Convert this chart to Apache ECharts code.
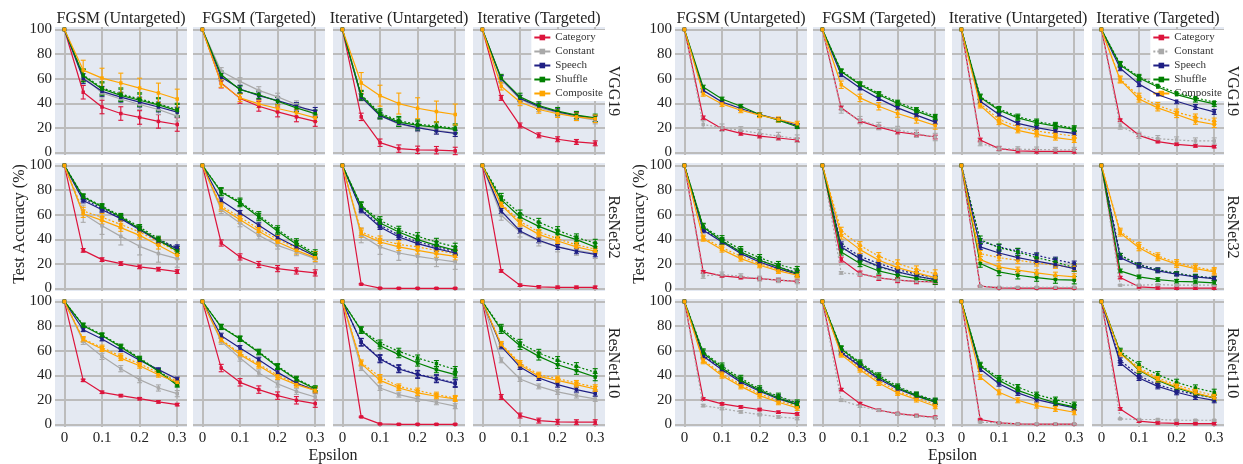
<!DOCTYPE html>
<html>
<head>
<meta charset="utf-8">
<script src="https://cdn.jsdelivr.net/npm/echarts@6/dist/echarts.min.js"></script>
<style>
  html, body { margin: 0; padding: 0; background: #fff; }
  #chart { width: 1243px; height: 464px; }
</style>
</head>
<body>
<div id="chart"></div>
<script>
// ---- axes / labels ----
const epsilon = [0, 0.05, 0.1, 0.15, 0.2, 0.25, 0.3];
const attacks = ['FGSM (Untargeted)', 'FGSM (Targeted)', 'Iterative (Untargeted)', 'Iterative (Targeted)'];
const models = ['VGG19', 'ResNet32', 'ResNet110'];
const methods = ['Category', 'Constant', 'Speech', 'Shuffle', 'Composite'];

// ---- left panel: test accuracy (%), rows = VGG19 x4 attacks, ResNet32 x4, ResNet110 x4 ----
const leftCategory = [
  [100,49,37,31.7,28.5,25.3,22.8], [100,56.5,44,37.6,33,29,25.3], [100,29,8,3.2,2.2,1.9,1.3], [100,44.4,22,14,10.8,8.6,7.5],
  [100,31,23.5,20.3,17.6,15.7,13.8], [100,37,25.7,19.5,16.2,14.3,12.7], [100,3.5,0.3,0.2,0.2,0.2,0.2], [100,14.3,2.7,1.4,1,1,1],
  [100,35.9,26.2,23.5,21,18.4,16.2], [100,45.9,34.3,28.4,23.5,19.7,17], [100,6.2,0.5,0.2,0.2,0.2,0.2], [100,22.4,7.3,3.2,2.2,1.9,1.9]
];
const leftConstant = [
  [100,62,48.4,43.5,39,35,29.6], [100,66,57.8,50.5,45.2,39,31], [100,45,30,23,20,18,16], [100,59,43.5,36.3,32.3,29,26.3],
  [100,60.8,51,42.4,34.3,28.4,24.3], [100,64,53.2,43.2,35.1,29.7,24.3], [100,43.2,33.8,28.9,26.2,23.8,21.6], [100,59.5,45.9,38.6,33.8,31,28.4],
  [100,67.6,55.4,45.4,36.5,29.7,25.1], [100,67.6,54,41.9,33,27,22.4], [100,45.9,29.7,24.3,20.8,18.1,14.9], [100,52.2,37,31,26.5,23.5,20.8]
];
const leftSpeech = [
  [100,60,49.7,45,41,37,32.8], [100,61.3,51.6,46.2,42.2,37.6,33.6], [100,45,30,23.7,20.2,17.5,15.6], [100,60,44,37.5,33,30,27.5],
  [100,71.6,64,56.8,47.8,38.6,32.4], [100,71.6,61.4,51.4,41.4,33.8,26.2], [100,63.5,50,41.9,36.5,32.4,28.9], [100,63,46.8,39.2,33.8,30.3,27.8],
  [100,77,69.5,60.8,52.2,44.6,37], [100,72.2,62.2,52.7,42.4,33.8,27.8], [100,66.8,53.2,45.1,40.5,37,33.2], [100,63.5,46.8,37.8,32.4,28.4,25.1]
];
const leftShuffle = [
  [100,62.4,51.6,46.5,42.5,38.7,34.1], [100,63.2,51,47,41.7,36.3,31.5], [100,46.2,30.9,24.7,22,20.7,18.8], [100,60.5,45.2,38.2,33.6,30.4,28.2],
  [100,74.3,66.2,58.1,48.6,39.2,30.5], [100,78.4,69.5,58.1,46.5,35.9,27], [100,66.8,53.2,45.9,39.7,35.1,31], [100,72.2,58.1,50.5,44.6,39.7,33.8],
  [100,80.3,72.4,63,53.2,43.2,31.9], [100,79.2,69.5,58.6,46.8,36.5,28.9], [100,76.5,64,56.8,50,44.6,40.5], [100,77,64,55.4,48.6,43.8,38.6]
];
const leftComposite = [
  [100,67,60.5,56.5,52.4,48.4,43.5], [100,56,44.4,39.5,35.8,32.3,28.2], [100,56.5,46.2,39.8,36,33.3,30.9], [100,53.8,41.1,35,31.5,29,27.4],
  [100,60.8,55.4,49.5,43.2,35.1,27], [100,65.7,55.9,46.5,37.8,31,25.1], [100,44.6,37.8,33.8,31,28.4,26.2], [100,68.1,52.7,44,38.6,33.8,30.3],
  [100,68.9,61.4,54,47.8,40.5,34.3], [100,68.4,56.8,47.8,38.6,32.4,27.8], [100,49.5,35.9,29.7,25.7,23,20.8], [100,64.9,48.6,39.2,35.9,32.4,28.9]
];
// dotted companion runs (null = not drawn)
const leftSpeechDotted = [
  null, null, null, null,
  [100,73,65,57.5,48.5,39.5,33.5], null, [100,64.5,51.5,43.5,38,33.8,30], null,
  null, null, [100,67,53.8,45.6,41,37.5,33.8], null
];
const leftShuffleDotted = [
  [100,63,52.5,47.5,43.5,39.5,35], null, [100,47,32,25.8,23,21.6,19.8], null,
  [100,75,67,59,50,40.5,32], [100,79,70.5,59.5,48,37.5,28.5], [100,67.5,55.4,47.6,42.4,37.8,33.8], [100,74.3,60.8,54,47.3,41.4,37],
  [100,81,73,63.8,54,44,32.8], [100,79.5,70,59.2,47.5,37.2,29.5], [100,77,66.2,59.5,54,49.5,44.6], [100,78.4,66.2,58.1,52.2,47.3,42.4]
];
const leftCompositeDotted = [
  null, null, null, null,
  [100,63,58,52,46,38,30], [100,67,58,48.5,40,33,27], [100,46,39.7,35.9,33.8,31,28.4], [100,69,54.5,46,40.5,35.5,32],
  [100,69.5,62.5,55.5,49.5,42,35.5], [100,69,58,49,40,33.5,28.5], [100,50.5,38.6,31,27.6,24.3,21.6], [100,65.5,50,40.5,37.3,33.8,30.3]
];
// error-bar half widths, one per plot
const leftCategoryErr  = [5.5,4,3,2, 1.5,2.5,0.5,1, 1,3,0.5,2];
const leftConstantErr  = [4,3,3,3, 7,3,6,4, 2.5,2.5,2,2];
const leftSpeechErr    = [4,3,2.5,2.5, 2,2,2,2, 1.5,2,3,2];
const leftShuffleErr   = [5,3,3.5,3, 2,3,3,3, 1.5,2,2.5,3];
const leftCompositeErr = [8,3,8.5,3, 3,3,3,2, 2,2,2,2];

// ---- right panel ----
const rightCategory = [
  [100,28.2,19.4,15.6,13.4,11.8,10.2], [100,36.3,25.5,20.7,16.7,14.8,12.6], [100,10.2,3.2,1.3,1,1,1], [100,26.3,14,8.9,6.7,5.4,4.8],
  [100,13.5,10.3,8.9,8.1,6.8,5.9], [100,23.5,12.2,8.6,6.8,5.9,5.4], [100,1.9,0.5,0.3,0.3,0.3,0.3], [100,8.9,1.4,0.5,0.3,0.3,0.3],
  [100,20.8,16.8,14.3,12.2,10,8.6], [100,28.4,17,11.6,8.9,7.3,5.9], [100,4.1,1.4,0.5,0.3,0.3,0.3], [100,12.7,2.7,1.4,1,0.8,0.8]
];
const rightConstant = [
  [100,22.8,20.2,18,15.6,13.4,11.3], [100,35,26.3,21.5,18.3,15.3,12.6], [100,7.5,3.2,2.7,2.5,2.2,2.2], [100,21.5,14,11.3,10.2,9.4,9.4],
  [100,10.3,11.4,10,8.1,6.8,5.9], [100,12.7,11.6,8.6,6.8,5.9,5.4], [100,1.9,1,1,1,1,1], [100,2.7,2.7,3.2,2.7,2.7,2.7],
  [100,15.4,13,10.3,8.1,6.2,4.9], [100,19.7,14.9,11.6,8.6,6.8,5.4], [100,1.9,1.4,0.5,0.5,0.5,0.5], [100,4.6,4.1,4.1,3.5,3.5,3.5]
];
const rightSpeech = [
  [100,50.5,41.1,35.8,30.9,26.9,22], [100,63.2,52.4,43.8,36.3,30.4,24.7], [100,41.7,30.9,23.7,20.2,17.5,15.6], [100,68.5,55.6,47,41.7,37,33],
  [100,47.3,37.8,28.4,21.6,16.2,11.6], [100,33.8,24.3,18.1,13.5,10,7.3], [100,33.8,28.9,25.1,22.2,19.5,16.2], [100,25.1,18.1,14.3,11.6,9.5,8.1],
  [100,55.4,44.6,34.3,27,20.8,16.2], [100,58.6,47.3,37,28.9,23,18.1], [100,45.1,33.2,25.7,20.3,16.8,13.5], [100,50,37.8,31,26.2,22.4,19.7]
];
const rightShuffle = [
  [100,53.2,43.5,37.6,30.9,26.3,21], [100,65.9,55.1,47,39.8,33.6,28.2], [100,44.9,34.4,28.2,24.2,21.5,18.8], [100,71.2,60.5,53.2,47,43,39.5],
  [100,50,38.6,29.7,23,17.6,12.2], [100,29.7,20.3,14.3,10.8,8.1,5.9], [100,20.3,13.5,10.8,8.9,7.3,6.8], [100,14.3,9.5,7.3,5.9,5.4,4.6],
  [100,58.1,45.9,35.9,27.8,21.6,16.2], [100,61.4,49.5,38.6,29.7,23.5,18.4], [100,47.8,35.9,27.8,22.4,17.6,14.3], [100,58.6,44.1,35.9,29.7,25.1,21.6]
];
const rightComposite = [
  [100,47.8,39.5,34.4,30.4,26.9,23.4], [100,55.1,44.4,37.6,31.7,26.9,22], [100,38.2,24.7,18,14.8,12.1,10.2], [100,59,43.5,36.3,30.9,25.5,22.8],
  [100,40.5,31.6,24.3,18.9,14.3,10.8], [100,43.2,31.6,23,17,12.7,8.9], [100,23.5,17.6,14.9,12.7,10.8,9.5], [100,45.1,33.2,25.1,19.7,16.2,13.5],
  [100,51.4,39.7,31,23.5,18.1,13.5], [100,56.8,44.6,33.8,25.7,20.3,14.9], [100,38.6,26.2,19.7,15.4,12.7,10], [100,57.6,44.6,36.5,30.5,25.7,21.6]
];
const rightSpeechDotted = [
  null, null, null, null,
  [100,48,39,29.5,23,17.5,13], [100,35.9,26.2,20.3,15.4,11.6,8.9], [100,38.6,33.8,30.5,27,23.5,20.3], [100,27,19.5,15.4,12.2,10,8.6],
  [100,56.5,45.5,35.5,28,22,17], [100,59.5,48.5,38,30,24,19], null, [100,52.2,39.7,32.4,27.8,24.3,21.6]
];
const rightShuffleDotted = [
  null, [100,66.5,56,48,41,35,29.5], [100,45.5,35.4,29.2,25.2,22.5,19.8], [100,72,61.5,54.5,48.5,44.5,41],
  [100,50.5,40.5,31.6,25.1,19.5,15.4], [100,33.8,24.3,17.6,13.5,10,7.3], [100,39.7,33.2,29.7,25.1,21.6,17], [100,27,18.9,14.9,12.2,10,8.1],
  [100,59,47.5,37.5,29,23,17.5], [100,62,50.5,40,31,24.5,19.5], [100,48.6,37.8,30.5,24.3,20.3,16.2], [100,59.5,48.6,40.5,34.3,29.7,26.2]
];
const rightCompositeDotted = [
  null, null, [100,39.8,26.9,20.7,17.5,15.3,13.4], [100,59.7,45.7,38.2,32.8,28.8,25.5],
  [100,41.4,33.2,26.2,20.3,15.4,11.6], [100,46.8,35.1,26.2,20.3,15.4,12.2], [100,28.4,25.1,23,20.8,18.9,17], [100,46.5,35,26.5,21,17.5,14.5],
  [100,52.5,41,32.5,25,19.5,15], [100,57.8,46,35.5,27,21.5,16.5], null, [100,58.5,46,38,32,27.5,23.5]
];
const rightCategoryErr  = [1.5,1.5,1.5,1, 1,2,0.5,1, 1,1,0.5,1];
const rightConstantErr  = [3,3,2,2.5, 2,1,0.5,0.5, 1,1,0.5,0.5];
const rightSpeechErr    = [1.5,1.5,1.5,2, 2,2,2,1.5, 2,2,2,2];
const rightShuffleErr   = [1.5,1.5,2,2, 2.5,2.5,3,1.5, 2.5,2,2,2.5];
const rightCompositeErr = [2,3,2,2.5, 2,3,2.5,2.5, 2,2,2,2];

// ---- styling ----
const colors = { Category: '#DC143C', Constant: '#A9A9A9', Speech: '#1f1f84', Shuffle: '#008000', Composite: '#FFA500' };
const SERIF = "'Liberation Serif', 'DejaVu Serif', serif";
const TEXT = '#222';
const panelColLefts = [[55, 193, 333, 473], [675, 813, 952, 1092]];
const colWidth = 132;
const rowTops = [27, 163, 299];
const rowHeight = 128;

const panels = [
  {
    solid: { Category: leftCategory, Constant: leftConstant, Speech: leftSpeech, Shuffle: leftShuffle, Composite: leftComposite },
    dotted: { Speech: leftSpeechDotted, Shuffle: leftShuffleDotted, Composite: leftCompositeDotted },
    err: { Category: leftCategoryErr, Constant: leftConstantErr, Speech: leftSpeechErr, Shuffle: leftShuffleErr, Composite: leftCompositeErr },
    dottedMethods: []
  },
  {
    solid: { Category: rightCategory, Constant: rightConstant, Speech: rightSpeech, Shuffle: rightShuffle, Composite: rightComposite },
    dotted: { Speech: rightSpeechDotted, Shuffle: rightShuffleDotted, Composite: rightCompositeDotted },
    err: { Category: rightCategoryErr, Constant: rightConstantErr, Speech: rightSpeechErr, Shuffle: rightShuffleErr, Composite: rightCompositeErr },
    dottedMethods: ['Constant']
  }
];

const grids = [], xAxes = [], yAxes = [], lineSeries = [], dottedSeries = [], errSeries = [], graphics = [];
const gridLine = { show: true, showMinLine: false, showMaxLine: false, lineStyle: { color: '#bcbcbc', width: 2 } };

function errorBars(g, points, err, color) {
  return {
    type: 'custom', xAxisIndex: g, yAxisIndex: g, silent: true, z: 3,
    data: points.slice(1).map(p => [p[0], p[1], err]),
    encode: { x: 0, y: 1 },
    renderItem: (params, api) => {
      const x = api.value(0), y = api.value(1), e = api.value(2);
      const top = api.coord([x, y + e]);
      const bot = api.coord([x, y - e]);
      const w = 2.5;
      const st = { stroke: color, lineWidth: 1.1 };
      return {
        type: 'group',
        children: [
          { type: 'line', shape: { x1: top[0], y1: top[1], x2: bot[0], y2: bot[1] }, style: st },
          { type: 'line', shape: { x1: top[0] - w, y1: top[1], x2: top[0] + w, y2: top[1] }, style: st },
          { type: 'line', shape: { x1: bot[0] - w, y1: bot[1], x2: bot[0] + w, y2: bot[1] }, style: st }
        ]
      };
    }
  };
}

panels.forEach((panel, p) => {
  models.forEach((model, r) => {
    attacks.forEach((attack, c) => {
      const g = grids.length;
      const k = r * 4 + c;
      grids.push({
        left: panelColLefts[p][c], top: rowTops[r], width: colWidth, height: rowHeight,
        show: true, backgroundColor: '#e4e9f2', borderWidth: 0, containLabel: false
      });
      xAxes.push({
        gridIndex: g, type: 'value', min: -0.025, max: 0.326, splitNumber: 4,
        axisLine: { show: false }, axisTick: { show: false },
        axisLabel: {
          show: r === 2, margin: 4, color: TEXT, fontFamily: SERIF, fontSize: 15,
          formatter: v => (Math.abs(v * 10 - Math.round(v * 10)) < 1e-6 ? String(Math.round(v * 10) / 10) : '')
        },
        splitLine: gridLine
      });
      yAxes.push({
        gridIndex: g, type: 'value', min: -2, max: 102, splitNumber: 5,
        axisLine: { show: false }, axisTick: { show: false },
        axisLabel: {
          show: c === 0, margin: 3, color: TEXT, fontFamily: SERIF, fontSize: 15,
          formatter: v => (Math.abs(v % 20) < 1e-6 ? String(v) : '')
        },
        splitLine: gridLine
      });
      methods.forEach((m, mi) => {
        const vals = panel.solid[m][k];
        const pts = epsilon.map((x, i) => [x, vals[i]]);
        const isDotted = panel.dottedMethods.includes(m);
        lineSeries.push({
          type: 'line', name: m, xAxisIndex: g, yAxisIndex: g, data: pts,
          symbol: 'rect', symbolSize: 3.5, showSymbol: true, z: 4 + mi * 0.1,
          lineStyle: { color: colors[m], width: 1.2, type: isDotted ? [2, 2] : 'solid' },
          itemStyle: { color: colors[m] }, animation: false
        });
        errSeries.push(errorBars(g, pts, panel.err[m][k], colors[m]));
        const dv = panel.dotted[m] ? panel.dotted[m][k] : null;
        if (dv) {
          const dpts = epsilon.map((x, i) => [x, dv[i]]);
          dottedSeries.push({
            type: 'line', name: m + ' (dotted)', xAxisIndex: g, yAxisIndex: g, data: dpts,
            symbol: 'rect', symbolSize: 3.5, z: 4,
            lineStyle: { color: colors[m], width: 1.2, type: [2, 2] },
            itemStyle: { color: colors[m] }, animation: false
          });
          errSeries.push(errorBars(g, dpts, panel.err[m][k], colors[m]));
        }
      });
      if (r === 0) {
        graphics.push({
          type: 'text', x: panelColLefts[p][c] + colWidth / 2, y: 19,
          style: { text: attack, font: `16px ${SERIF}`, fill: TEXT, textAlign: 'center', textVerticalAlign: 'middle' }
        });
      }
    });
    // model name on the right edge of each row
    graphics.push({
      type: 'text', x: panelColLefts[p][3] + colWidth + 8, y: rowTops[r] + rowHeight / 2, rotation: -Math.PI / 2,
      style: { text: model, font: `16px ${SERIF}`, fill: TEXT, textAlign: 'center', textVerticalAlign: 'middle' }
    });
  });
  // axis names for the panel
  graphics.push({
    type: 'text', x: panelColLefts[p][0] - 35, y: 224, rotation: Math.PI / 2,
    style: { text: 'Test Accuracy (%)', font: `16px ${SERIF}`, fill: TEXT, textAlign: 'center', textVerticalAlign: 'middle' }
  });
  graphics.push({
    type: 'text', x: (panelColLefts[p][1] + panelColLefts[p][2] + colWidth) / 2 + 4, y: 456,
    style: { text: 'Epsilon', font: `16px ${SERIF}`, fill: TEXT, textAlign: 'center', textVerticalAlign: 'middle' }
  });
});

const legendBase = {
  orient: 'vertical', top: 30, backgroundColor: '#ffffff', padding: [2, 2, 2, 2],
  itemGap: 3, itemWidth: 16, itemHeight: 7, align: 'left',
  textStyle: { fontFamily: SERIF, fontSize: 11, color: '#333' }
};

const chart = echarts.init(document.getElementById('chart'), null, { renderer: 'canvas' });
chart.setOption({
  animation: false,
  backgroundColor: '#ffffff',
  grid: grids,
  xAxis: xAxes,
  yAxis: yAxes,
  legend: [
    Object.assign({}, legendBase, { right: 1243 - (panelColLefts[0][3] + colWidth), data: methods }),
    Object.assign({}, legendBase, {
      right: 1243 - (panelColLefts[1][3] + colWidth),
      data: methods.map(n => (n === 'Constant' ? { name: n, lineStyle: { type: [2, 2] } } : n))
    })
  ],
  graphic: graphics,
  series: lineSeries.concat(dottedSeries, errSeries)
});
</script>
</body>
</html>
